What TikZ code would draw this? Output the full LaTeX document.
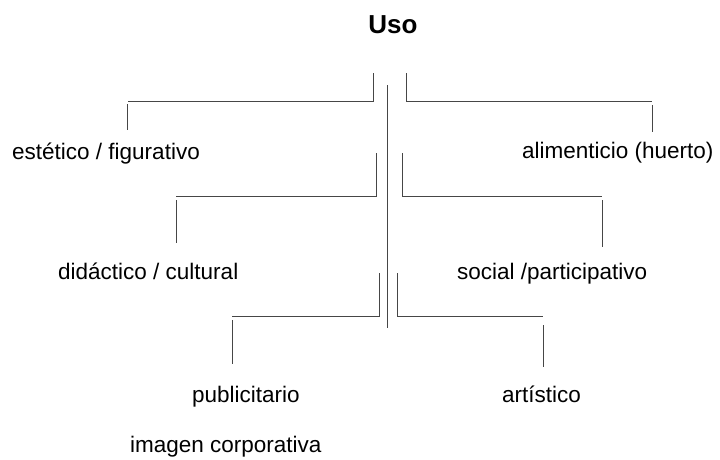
\documentclass[tikz,border=0pt]{standalone}
\usepackage{fontspec}
\setmainfont{Liberation Sans}
\begin{document}
\begin{tikzpicture}[x=1pt,y=-1pt,
  lbl/.style={inner sep=0pt,anchor=base west,font=\fontsize{22.5}{26}\selectfont},
  conn/.style={draw={rgb,255:red,70;green,70;blue,70},line width=1pt}]
\useasboundingbox (0,0) rectangle (720,459);
% title
\node[inner sep=0pt,anchor=base,font=\fontsize{26}{30}\selectfont\bfseries] (uso) at (393,33) {Uso};
% labels
\node[lbl] (est) at (12,159) {estético / figurativo};
\node[lbl] (ali) at (522,158) {alimenticio (huerto)};
\node[lbl] (did) at (58,279) {didáctico / cultural};
\node[lbl] (soc) at (457,279) {social /participativo};
\node[lbl] (pub) at (192,402) {publicitario};
\node[lbl] (art) at (502,402) {artístico};
\node[lbl] (img) at (130,452) {imagen corporativa};
% connector points
\coordinate (ctop) at (387,85);
\coordinate (cbot) at (387,328);
\coordinate (l1a) at (373,73); \coordinate (l1b) at (373,101); \coordinate (l1c) at (128,101);
\coordinate (l1d) at (127,104); \coordinate (l1e) at (127,130);
\coordinate (r1a) at (406,73); \coordinate (r1b) at (406,101); \coordinate (r1c) at (652,101);
\coordinate (r1d) at (652,105); \coordinate (r1e) at (652,132);
\coordinate (l2a) at (376,153); \coordinate (l2b) at (376,196); \coordinate (l2c) at (176,196);
\coordinate (l2d) at (176,200); \coordinate (l2e) at (176,243);
\coordinate (r2a) at (402,153); \coordinate (r2b) at (402,196); \coordinate (r2c) at (602,196);
\coordinate (r2d) at (602,200); \coordinate (r2e) at (602,247);
\coordinate (l3a) at (379,273); \coordinate (l3b) at (379,316); \coordinate (l3c) at (232,316);
\coordinate (l3d) at (232,320); \coordinate (l3e) at (232,364);
\coordinate (r3a) at (397,273); \coordinate (r3b) at (397,316); \coordinate (r3c) at (543,316);
\coordinate (r3d) at (543,325); \coordinate (r3e) at (543,367);
% connectors
\draw[conn] (ctop) -- (cbot);
\draw[conn] (l1a) -- (l1b) -- (l1c);
\draw[conn] (l1d) -- (l1e);
\draw[conn] (r1a) -- (r1b) -- (r1c);
\draw[conn] (r1d) -- (r1e);
\draw[conn] (l2a) -- (l2b) -- (l2c);
\draw[conn] (l2d) -- (l2e);
\draw[conn] (r2a) -- (r2b) -- (r2c);
\draw[conn] (r2d) -- (r2e);
\draw[conn] (l3a) -- (l3b) -- (l3c);
\draw[conn] (l3d) -- (l3e);
\draw[conn] (r3a) -- (r3b) -- (r3c);
\draw[conn] (r3d) -- (r3e);
\end{tikzpicture}
\end{document}
